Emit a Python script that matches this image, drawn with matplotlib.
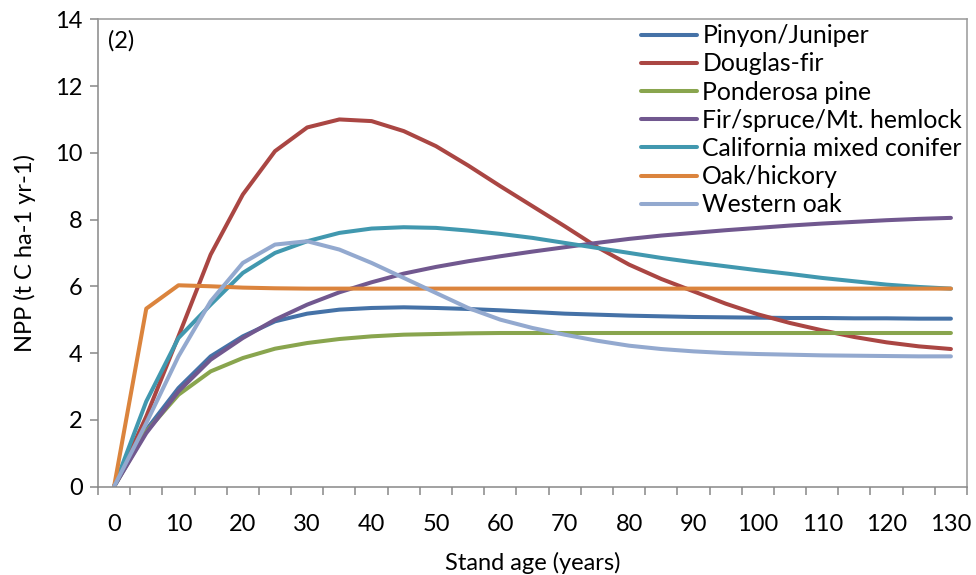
import numpy as np
import matplotlib
matplotlib.use('Agg')
import matplotlib.pyplot as plt
from matplotlib.ticker import MultipleLocator, FixedLocator

plt.rcParams['font.family'] = ['Lato', 'DejaVu Sans']

# stand age, every 5 years
age = np.arange(0, 135, 5)

pinyon = [0, 1.70, 2.95, 3.90, 4.50, 4.95, 5.18, 5.30, 5.35, 5.37, 5.35, 5.32, 5.28, 5.23,
          5.18, 5.15, 5.12, 5.10, 5.08, 5.07, 5.06, 5.05, 5.05, 5.04, 5.04, 5.03, 5.03]
douglas = [0, 2.10, 4.50, 6.95, 8.75, 10.05, 10.76, 11.00, 10.95, 10.65, 10.20, 9.62, 9.00, 8.40,
           7.80, 7.18, 6.65, 6.22, 5.85, 5.48, 5.16, 4.90, 4.68, 4.48, 4.32, 4.20, 4.12]
ponderosa = [0, 1.65, 2.75, 3.45, 3.85, 4.13, 4.30, 4.42, 4.50, 4.55, 4.57, 4.59, 4.60, 4.60,
             4.60, 4.60, 4.60, 4.60, 4.60, 4.60, 4.60, 4.60, 4.60, 4.60, 4.60, 4.60, 4.60]
firspruce = [0, 1.60, 2.85, 3.80, 4.45, 5.00, 5.45, 5.82, 6.12, 6.38, 6.58, 6.75, 6.90, 7.04,
             7.17, 7.30, 7.42, 7.52, 7.60, 7.68, 7.75, 7.82, 7.88, 7.93, 7.98, 8.02, 8.05]
calmixed = [0, 2.55, 4.45, 5.45, 6.40, 7.00, 7.35, 7.60, 7.73, 7.77, 7.75, 7.67, 7.57, 7.45,
            7.30, 7.15, 7.00, 6.85, 6.72, 6.60, 6.48, 6.37, 6.25, 6.15, 6.05, 5.98, 5.93]
oakhickory = [0, 5.33, 6.03, 6.00, 5.96, 5.94, 5.93, 5.93, 5.93, 5.93, 5.93, 5.93, 5.93, 5.93,
              5.93, 5.93, 5.93, 5.93, 5.93, 5.93, 5.93, 5.93, 5.93, 5.93, 5.93, 5.93, 5.93]
westernoak = [0, 1.90, 3.90, 5.55, 6.70, 7.25, 7.35, 7.10, 6.70, 6.25, 5.80, 5.35, 5.00, 4.75,
              4.55, 4.37, 4.22, 4.12, 4.05, 4.00, 3.97, 3.95, 3.93, 3.92, 3.91, 3.90, 3.90]

names = ['Pinyon/Juniper', 'Douglas-fir', 'Ponderosa pine', 'Fir/spruce/Mt. hemlock',
         'California mixed conifer', 'Oak/hickory', 'Western oak']
series = [pinyon, douglas, ponderosa, firspruce, calmixed, oakhickory, westernoak]
colors = ['#4572A7', '#AA4643', '#89A54E', '#71588F', '#4198AF', '#DB843D', '#93A9CF']

fs = 17

fig = plt.figure(figsize=(9.76, 5.75), dpi=100)
ax = fig.add_axes([0.1004, 0.1539, 0.8904, 0.8125])

for y, n, c in zip(series, names, colors):
    ax.plot(age, y, color=c, lw=2.9, label=n, solid_capstyle='round', solid_joinstyle='round')

ax.set_xlim(-2.5, 132.5)
ax.set_ylim(0, 14)
ax.yaxis.set_major_locator(MultipleLocator(2))

ax.xaxis.set_major_locator(FixedLocator(np.arange(0, 131, 10)))
ax.xaxis.set_minor_locator(FixedLocator(np.arange(-2.5, 133, 5)))
ax.tick_params(axis='x', which='major', length=0, pad=20, labelsize=fs)
ax.tick_params(axis='x', which='minor', length=6, width=1.1, color='#888888', direction='out')
ax.tick_params(axis='y', length=6, width=1.1, color='#888888', direction='out', labelsize=fs, pad=5)

for s in ax.spines.values():
    s.set_color('#999999')
    s.set_linewidth(1.1)
ax.spines['left'].set_color('#888888')
ax.spines['bottom'].set_color('#888888')

ax.set_xlabel('Stand age (years)', fontsize=fs, labelpad=12)
ax.set_ylabel('NPP (t C ha-1 yr-1)', fontsize=fs, labelpad=14)
ax.text(0.011, 0.978, '(2)', transform=ax.transAxes, fontsize=fs, va='top', ha='left')

ax.legend(loc='upper right', frameon=False, fontsize=17.8, handlelength=2.3, handletextpad=0.2,
          labelspacing=0.21, borderaxespad=0.1, borderpad=0.1)

fig.savefig('out.png', dpi=100)
